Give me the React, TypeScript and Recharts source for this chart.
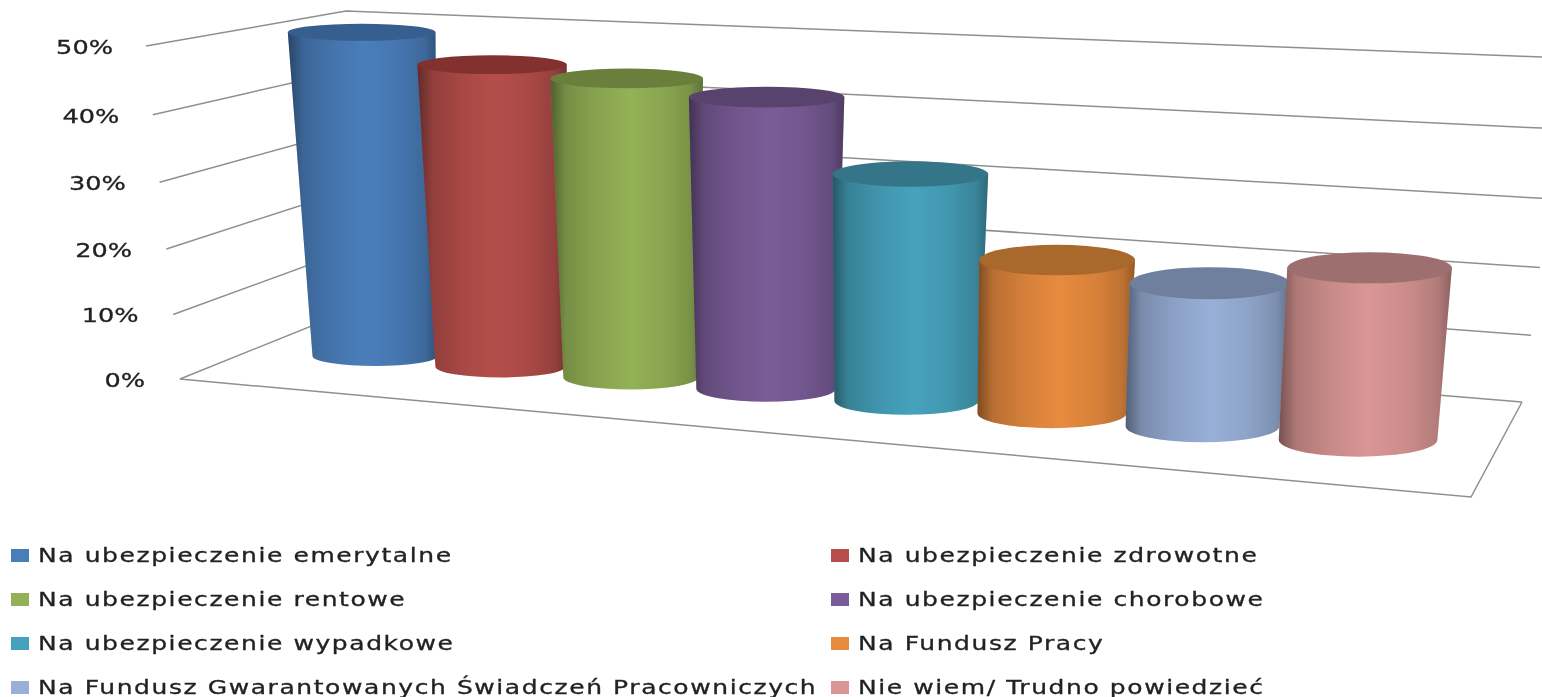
import { BarChart, Bar, XAxis, YAxis, CartesianGrid, Legend } from "recharts";

const categories = [
  "Na ubezpieczenie emerytalne",
  "Na ubezpieczenie zdrowotne",
  "Na ubezpieczenie rentowe",
  "Na ubezpieczenie chorobowe",
  "Na ubezpieczenie wypadkowe",
  "Na Fundusz Pracy",
  "Na Fundusz Gwarantowanych Świadczeń Pracowniczych",
  "Nie wiem/ Trudno powiedzieć",
];
const values = [48.6, 44.6, 43.5, 41.8, 32, 21.3, 19.6, 23.2];
const yTicks = [0, 10, 20, 30, 40, 50];

const bodyColors = ["#4a7ebb", "#b54e4b", "#93b156", "#7a5c98", "#46a2bc", "#e78b3e", "#98afd7", "#d99694"];
const topColors = ["#365e8f", "#83312f", "#6b7f3d", "#57436e", "#35758a", "#a9682c", "#6f7f9e", "#9e6f6f"];

const data = categories.map((name, i) => ({ name, value: values[i] }));

const CHART_W = 1542;
const CHART_H = 697;
const PLOT_LEFT = 300;
const PLOT_RIGHT = 1450;
const PLOT_TOP = 46;
const PLOT_BOTTOM = 379;
const BAND = (PLOT_RIGHT - PLOT_LEFT) / categories.length;

// share of the axis height, 0 at the floor and 1 at the top tick
const axisShare = (y: number) => (PLOT_BOTTOM - y) / (PLOT_BOTTOM - PLOT_TOP);
// the walls are drawn in perspective so the ticks are not quite evenly spaced
const bow = (t: number) => 13 * t * (1 - t);

function WallLine(props: any) {
  const t = axisShare(props.y1);
  const front = `${180 - 34 * t},${props.y1 + bow(t)}`;
  const corner = `${361 - 15 * t},${306 - 295 * t}`;
  const end = `${1522 + 45 * t},${402 - 344 * t + bow(t)}`;
  // the 0% line also closes the floor
  const floor = t < 0.01 ? `1471,497 ${end}` : "";
  return (
    <polyline
      points={`${end} ${corner} ${front} ${floor}`}
      fill="none"
      stroke="#8f8f8f"
      strokeWidth={1.5}
    />
  );
}

function PercentTick(props: any) {
  const t = axisShare(props.y);
  return (
    <text
      transform={`translate(${145 - 32 * t},${props.y + bow(t) + 8}) scale(1.28,1)`}
      textAnchor="end"
      fontFamily="DejaVu Sans"
      fontSize={20}
      fill="#222"
      stroke="#222"
      strokeWidth={0.3}
    >
      {props.payload.value}%
    </text>
  );
}

function Cylinder(props: any) {
  const { x, width, height, index } = props;
  const u = (x + width / 2 - PLOT_LEFT) / BAND - 0.5;

  const bottomW = 125 + 4.8 * u;
  const bottomRy = 10 + u;
  const bottomX = 375 + 122.8 * u + 2.52 * u * u;
  const bottomY = 366 + 11.2 * u + 0.25 * u * u - bottomRy;

  const h = height * (1 + 0.016 * u);
  const topX = bottomX + (bottomX - 750) * 0.00011 * h;
  const topY = bottomY - h;
  const topW = bottomW + (0.07 - 0.005 * u) * h;
  const topRy = 7.5 + 0.03 * topY;

  const body = `M${topX - topW / 2},${topY} L${bottomX - bottomW / 2},${bottomY} A${bottomW / 2},${bottomRy} 0 0 0 ${bottomX + bottomW / 2},${bottomY} L${topX + topW / 2},${topY} Z`;
  return (
    <g>
      <path d={body} fill={bodyColors[index]} />
      <path d={body} fill="url(#cylinderShade)" />
      <ellipse cx={topX} cy={topY} rx={topW / 2} ry={topRy} fill={topColors[index]} />
    </g>
  );
}

function LegendRows() {
  return (
    <div
      style={{
        display: "grid",
        gridTemplateColumns: "820px 1fr",
        gridAutoRows: 44,
        fontFamily: "DejaVu Sans",
        fontSize: 19,
        color: "#222",
        WebkitTextStroke: "0.3px #222",
      }}
    >
      {categories.map((name, i) => (
        <div key={name} style={{ display: "flex", alignItems: "center", whiteSpace: "nowrap" }}>
          <span
            style={{
              display: "inline-block",
              width: 18,
              height: 13,
              marginLeft: 11,
              marginRight: 9,
              backgroundColor: bodyColors[i],
              flexShrink: 0,
            }}
          />
          <span
            style={{
              display: "inline-block",
              letterSpacing: 1.2,
              transform: "scaleX(1.315)",
              transformOrigin: "left center",
            }}
          >
            {name}
          </span>
        </div>
      ))}
    </div>
  );
}

export default function App() {
  return (
    <div
      style={{
        position: "absolute",
        left: 0,
        top: 0,
        width: CHART_W,
        height: CHART_H,
        overflow: "hidden",
        background: "#fff",
        filter: "blur(0.5px)", // the reference is a soft, upscaled image
      }}
    >
      <BarChart
        width={CHART_W}
        height={CHART_H}
        data={data}
        margin={{ top: PLOT_TOP, right: CHART_W - PLOT_RIGHT, bottom: CHART_H - PLOT_BOTTOM, left: 0 }}
      >
        <defs>
          <linearGradient id="cylinderShade" x1="0" y1="0" x2="1" y2="0">
            <stop offset="0" stopColor="#000" stopOpacity={0.46} />
            <stop offset="0.1" stopColor="#000" stopOpacity={0.2} />
            <stop offset="0.3" stopColor="#000" stopOpacity={0.08} />
            <stop offset="0.52" stopColor="#000" stopOpacity={0} />
            <stop offset="0.75" stopColor="#000" stopOpacity={0.07} />
            <stop offset="0.92" stopColor="#000" stopOpacity={0.18} />
            <stop offset="1" stopColor="#000" stopOpacity={0.36} />
          </linearGradient>
        </defs>
        <CartesianGrid vertical={false} horizontal={WallLine} />
        <XAxis dataKey="name" hide />
        <YAxis
          width={PLOT_LEFT}
          domain={[0, 50]}
          ticks={yTicks}
          axisLine={false}
          tickLine={false}
          tick={PercentTick}
        />
        <Legend
          layout="horizontal"
          verticalAlign="middle"
          align="center"
          content={LegendRows}
          wrapperStyle={{ left: 0, top: 533, width: CHART_W }}
        />
        <Bar dataKey="value" shape={Cylinder} isAnimationActive={false} />
      </BarChart>
    </div>
  );
}
